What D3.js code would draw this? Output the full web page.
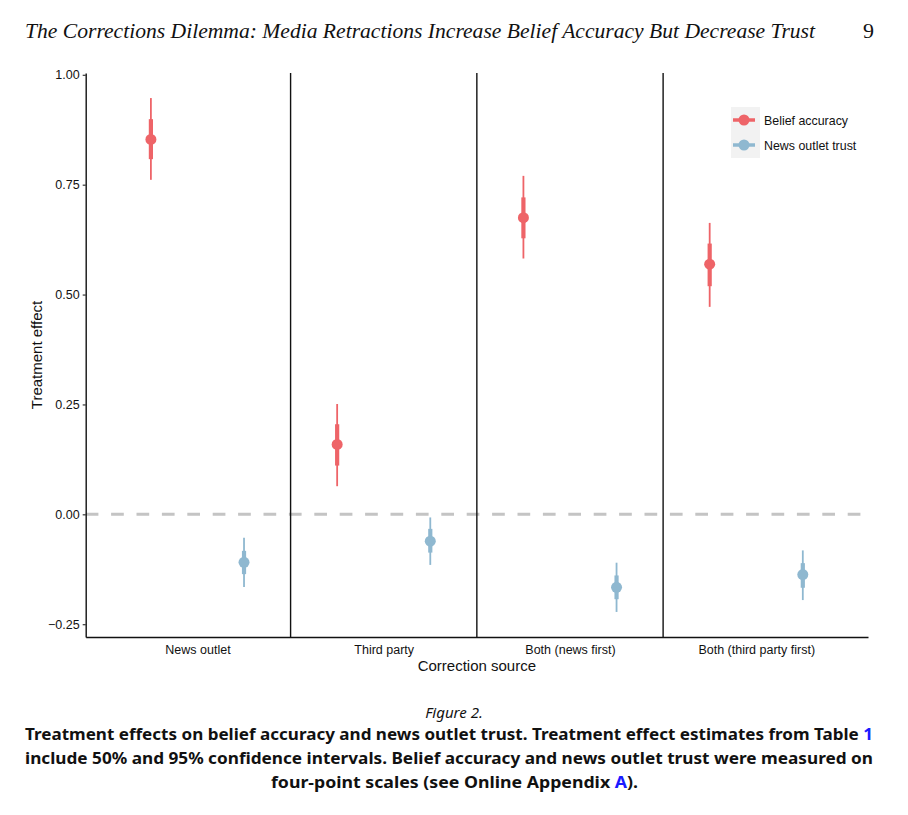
<!DOCTYPE html>
<html>
<head>
<meta charset="utf-8">
<script src="https://cdn.jsdelivr.net/npm/d3@7"></script>
<style>
  body { margin: 0; background: #fff; }
  svg { display: block; }
</style>
</head>
<body>
<div id="chart"></div>
<script>
// correction source categories
var categories = ["News outlet", "Third party", "Both (news first)", "Both (third party first)"];

// belief accuracy: estimate, 50% and 95% intervals
var beliefEst  = [0.853, 0.159, 0.675, 0.569];
var beliefLo50 = [0.808, 0.111, 0.628, 0.519];
var beliefHi50 = [0.899, 0.205, 0.721, 0.616];
var beliefLo95 = [0.761, 0.064, 0.582, 0.472];
var beliefHi95 = [0.947, 0.251, 0.770, 0.663];

// news outlet trust
var trustEst  = [-0.109, -0.061, -0.166, -0.137];
var trustLo50 = [-0.136, -0.087, -0.193, -0.167];
var trustHi50 = [-0.083, -0.033, -0.139, -0.111];
var trustLo95 = [-0.165, -0.115, -0.222, -0.195];
var trustHi95 = [-0.053, -0.007, -0.110, -0.082];

var seriesNames = ["Belief accuracy", "News outlet trust"];
var yTicks = [-0.25, 0, 0.25, 0.5, 0.75, 1.0];

var W = 908, H = 815;
var red = "#ee6468", blue = "#8fb8d0";

var svg = d3.select('#chart').append('svg')
    .attr('width', W)
    .attr('height', H);

// running header
svg.append('text')
    .attr('x', 25).attr('y', 38)
    .attr('textLength', 790)
    .attr('lengthAdjust', 'spacingAndGlyphs')
    .style('font-family', '"Liberation Serif", "DejaVu Serif", serif')
    .style('font-style', 'italic')
    .style('font-size', '22px')
    .attr('fill', '#111')
    .text('The Corrections Dilemma: Media Retractions Increase Belief Accuracy But Decrease Trust');
svg.append('text')
    .attr('x', 874).attr('y', 38)
    .attr('text-anchor', 'end')
    .style('font-family', '"Liberation Serif", serif')
    .style('font-size', '22px')
    .attr('fill', '#111')
    .text('9');

// plot area
var plotL = 85.7, plotR = 868, plotT = 73, plotB = 637;

var x = d3.scaleLinear()
    .domain([0.4, categories.length + 0.6])
    .range([plotL, plotR]);
var y = d3.scaleLinear()
    .domain([-0.279, 1.004])
    .range([plotB, plotT]);

var dodge = 0.25;

var g = svg.append('g')
    .style('font-family', '"Liberation Sans", Arial, sans-serif');

// zero reference line
g.append('line')
    .attr('x1', plotL).attr('x2', plotR)
    .attr('y1', y(0)).attr('y2', y(0))
    .attr('stroke', '#c4c4c4')
    .attr('stroke-width', 3)
    .style('stroke-dasharray', '12.7, 12.7');

// separators between categories
g.selectAll('.sep')
    .data(d3.range(1, categories.length))
    .enter().append('line')
    .attr('class', 'sep')
    .attr('x1', d => x(d + 0.5)).attr('x2', d => x(d + 0.5))
    .attr('y1', plotT).attr('y2', plotB)
    .attr('stroke', '#111')
    .attr('stroke-width', 1.4);

// y axis
var yAxis = g.append('g')
    .attr('transform', 'translate(' + plotL + ',0)')
    .call(d3.axisLeft(y)
        .tickValues(yTicks)
        .tickFormat(d3.format('.2f'))
        .tickSize(3)
        .tickSizeOuter(0)
        .tickPadding(3));
yAxis.select('.domain').attr('stroke', '#111').attr('stroke-width', 1.4);
yAxis.selectAll('.tick line').attr('stroke', '#111');
yAxis.selectAll('.tick text')
    .style('font-size', '12.5px')
    .attr('fill', '#111');

// x axis
var xAxis = g.append('g')
    .attr('transform', 'translate(0,' + plotB + ')')
    .call(d3.axisBottom(x)
        .tickValues(d3.range(1, categories.length + 1))
        .tickFormat(d => categories[d - 1])
        .tickSize(0)
        .tickSizeOuter(0)
        .tickPadding(8));
xAxis.select('.domain').attr('stroke', '#111').attr('stroke-width', 1.4);
xAxis.selectAll('.tick text')
    .style('font-size', '12.5px')
    .attr('fill', '#111');

// axis titles
g.append('text')
    .attr('transform', 'translate(42,' + ((plotT + plotB) / 2) + ') rotate(-90)')
    .attr('text-anchor', 'middle')
    .style('font-size', '15px')
    .attr('fill', '#111')
    .text('Treatment effect');
g.append('text')
    .attr('x', (plotL + plotR) / 2).attr('y', 671)
    .attr('text-anchor', 'middle')
    .style('font-size', '15px')
    .attr('fill', '#111')
    .text('Correction source');

// point ranges
var series = [
    {name: seriesNames[0], color: red, off: -dodge, est: beliefEst, lo50: beliefLo50, hi50: beliefHi50, lo95: beliefLo95, hi95: beliefHi95},
    {name: seriesNames[1], color: blue, off: dodge, est: trustEst, lo50: trustLo50, hi50: trustHi50, lo95: trustLo95, hi95: trustHi95}
];

series.forEach(s => {
    var sg = g.append('g');
    var idx = d3.range(categories.length);
    sg.selectAll('.ci95')
        .data(idx).enter().append('line')
        .attr('x1', i => x(i + 1 + s.off)).attr('x2', i => x(i + 1 + s.off))
        .attr('y1', i => y(s.lo95[i])).attr('y2', i => y(s.hi95[i]))
        .attr('stroke', s.color)
        .attr('stroke-width', 1.8);
    sg.selectAll('.ci50')
        .data(idx).enter().append('line')
        .attr('x1', i => x(i + 1 + s.off)).attr('x2', i => x(i + 1 + s.off))
        .attr('y1', i => y(s.lo50[i])).attr('y2', i => y(s.hi50[i]))
        .attr('stroke', s.color)
        .attr('stroke-width', 4.2);
    sg.selectAll('circle')
        .data(idx).enter().append('circle')
        .attr('cx', i => x(i + 1 + s.off))
        .attr('cy', i => y(s.est[i]))
        .attr('r', 5.5)
        .attr('fill', s.color);
});

// legend
var lg = g.append('g').attr('transform', 'translate(731,107)');
lg.append('rect')
    .attr('width', 29).attr('height', 51)
    .attr('fill', '#f2f2f2');
series.forEach((s, i) => {
    var ky = 13 + i * 25;
    lg.append('line')
        .attr('x1', 2).attr('x2', 24)
        .attr('y1', ky).attr('y2', ky)
        .attr('stroke', s.color)
        .attr('stroke-width', 3.5);
    lg.append('circle')
        .attr('cx', 13).attr('cy', ky)
        .attr('r', 5.5)
        .attr('fill', s.color);
    lg.append('text')
        .attr('x', 33).attr('y', ky + 4.5)
        .style('font-size', '12.4px')
        .attr('fill', '#111')
        .text(s.name);
});

// caption
var cap = svg.append('g')
    .style('font-family', '"Noto Sans", "Open Sans", sans-serif')
    .attr('fill', '#111');
cap.append('text')
    .attr('x', 454).attr('y', 718)
    .attr('text-anchor', 'middle')
    .style('font-style', 'italic')
    .style('font-size', '15px')
    .text('Figure 2.');

var l1 = cap.append('text')
    .attr('x', 25).attr('y', 740)
    .attr('textLength', 848)
    .attr('lengthAdjust', 'spacingAndGlyphs')
    .style('font-weight', 'bold')
    .style('font-size', '15.5px');
l1.append('tspan').text('Treatment effects on belief accuracy and news outlet trust. Treatment effect estimates from Table ');
l1.append('tspan').attr('fill', '#1a1aff').text('1');

cap.append('text')
    .attr('x', 25).attr('y', 764)
    .attr('textLength', 848)
    .attr('lengthAdjust', 'spacingAndGlyphs')
    .style('font-weight', 'bold')
    .style('font-size', '15.5px')
    .text('include 50% and 95% confidence intervals. Belief accuracy and news outlet trust were measured on');

var l3 = cap.append('text')
    .attr('x', 271).attr('y', 788)
    .attr('textLength', 367)
    .attr('lengthAdjust', 'spacingAndGlyphs')
    .style('font-weight', 'bold')
    .style('font-size', '15.5px');
l3.append('tspan').text('four-point scales (see Online Appendix ');
l3.append('tspan').attr('fill', '#1a1aff').text('A');
l3.append('tspan').text(').');
</script>
</body>
</html>
